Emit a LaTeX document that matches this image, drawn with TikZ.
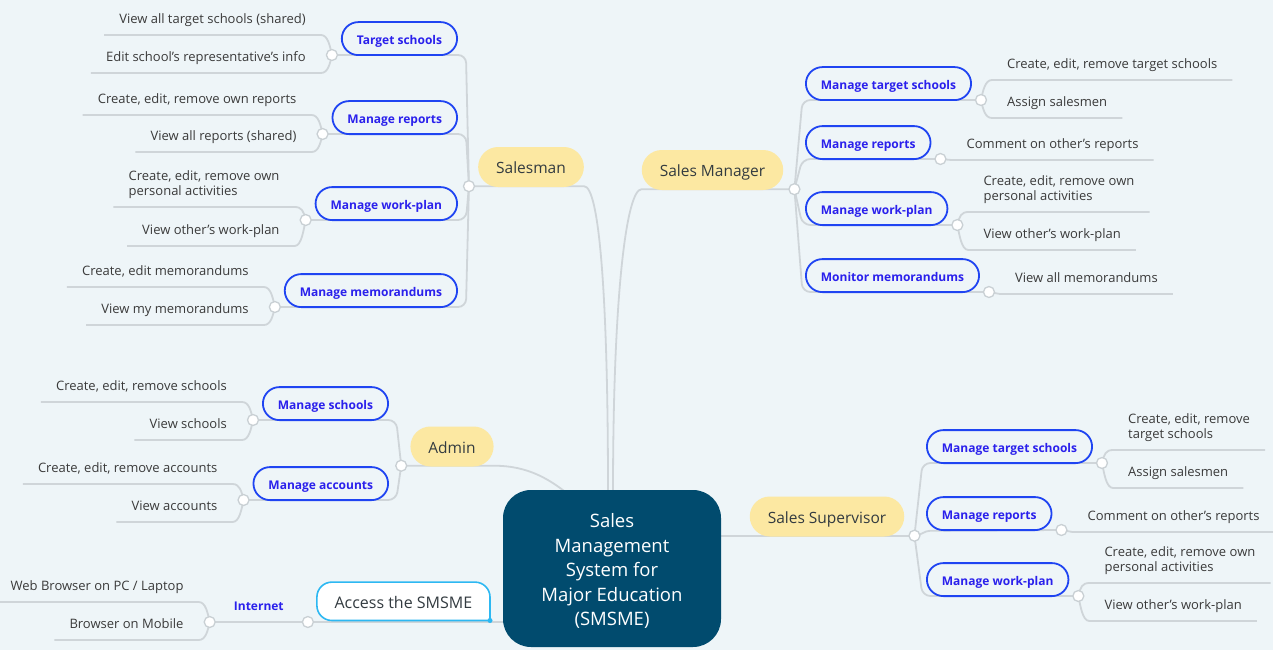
\documentclass[tikz,border=0pt]{standalone}
\usepackage{fontspec}
\setmainfont{Open Sans}
\usetikzlibrary{calc}
\pgfdeclarelayer{bg}
\pgfdeclarelayer{lines}
\pgfsetlayers{bg,lines,main}
\definecolor{bgc}{HTML}{EEF5F8}
\definecolor{linec}{HTML}{CFD5D9}
\definecolor{dotc}{HTML}{C9D0D4}
\definecolor{yel}{HTML}{FCE8A2}
\definecolor{blub}{HTML}{1F44F2}
\definecolor{blut}{HTML}{2A20EC}
\definecolor{leaft}{HTML}{3A3A3A}
\definecolor{darkt}{HTML}{333B40}
\definecolor{hubc}{HTML}{014B6E}
\definecolor{accc}{HTML}{2DB8F2}
\newcommand\leaffont{\fontsize{13}{15}\selectfont}
\newcommand\taskfont{\fontsize{12}{14}\selectfont\bfseries}
\newcommand\rolefont{\fontsize{15.5}{18}\selectfont}
\newcommand\accfont{\fontsize{16}{19}\selectfont}
\newcommand\hubfont{\fontsize{18.5}{24.5}\selectfont}
\newcommand\leafl[3]{\draw[conn] (#1.center) .. controls +(-2,{#3*9}) and +(7,0) .. (#2.south east) -- (#2.south west);}
\newcommand\leafr[3]{\draw[conn] (#1.center) .. controls +(2,{#3*9}) and +(-7,0) .. (#2.south west) -- (#2.south east);}
\newcommand\brline[3]{\draw[conn, rounded corners=8pt] (#1.center) -- ($(#1.center |- #2.center)+(#3,0)$) -- (#2.center);}
\newcommand\twoline[2]{\begin{tabular}[b]{@{}l@{}}#1\\#2\end{tabular}}
\begin{document}
\begin{tikzpicture}[x=1pt,y=-1pt,
 conn/.style={draw=linec, line width=1.8pt},
 dot/.style={circle, draw=dotc, fill=white, line width=1.3pt, minimum size=11pt, inner sep=0pt},
 role/.style={fill=yel, rounded corners=20pt, minimum height=40pt, inner xsep=18pt, inner ysep=0pt, font=\rolefont, text=darkt, text height=14pt, text depth=0.5pt},
 task/.style={draw=blub, fill=bgc, line width=1.8pt, rounded corners=16.5pt, minimum height=33pt, inner xsep=15pt, inner ysep=0pt, font=\taskfont, text=blut, text height=11.5pt, text depth=0.5pt},
 leafL/.style={anchor=south east, font=\leaffont, text=leaft, inner xsep=15pt, inner ysep=0pt, text height=9.5pt, text depth=11.5pt},
 leafR/.style={leafL, anchor=south west},
 hub/.style={fill=hubc, rounded corners=28pt, minimum width=218pt, minimum height=157pt, text=white, font=\hubfont, align=center, inner sep=0pt},
 accs/.style={minimum height=38pt, inner xsep=17.5pt, inner ysep=0pt, font=\accfont, text=darkt, text height=14pt, text depth=0.5pt},
 inet/.style={font=\taskfont, text=blut, inner xsep=12pt, inner ysep=0pt, text height=9pt, text depth=11.5pt},
]
\useasboundingbox (0,0) rectangle (1273,650);
\begin{pgfonlayer}{bg}
\fill[bgc] (0,0) rectangle (1273,650);
\end{pgfonlayer}

% hub and roles
\node[hub] (ctr) at (612,568.5) {\rule{0pt}{19.5pt}Sales\\Management\\System for\\Major Education\\(SMSME)};
\node[role] (sman) at (531,167) {Salesman};
\node[role] (smgr) at (712.5,170) {Sales Manager};
\node[role] (admin) at (452,446.5) {Admin};
\node[role] (ssup) at (827,516.5) {Sales Supervisor};
\node[dot] (d-sman) at ($(sman.south west)+(-9,-1)$) {};
\node[dot] (d-smgr) at ($(smgr.south east)+(11,-1)$) {};
\node[dot] (d-admin) at ($(admin.south west)+(-9,-1)$) {};
\node[dot] (d-ssup) at ($(ssup.south east)+(10,-1)$) {};

% Salesman tasks
\node[task, anchor=south east] (t1) at (458,56) {Target schools};
\node[task, anchor=south east] (t2) at (458,135) {Manage reports};
\node[task, anchor=south east] (t3) at (458,221) {Manage work-plan};
\node[task, anchor=south east] (t4) at (458,308) {Manage memorandums};
\node[dot] (d-t1) at ($(t1.south west)+(-9,-1)$) {};
\node[dot] (d-t2) at ($(t2.south west)+(-9,-1)$) {};
\node[dot] (d-t3) at ($(t3.south west)+(-9,-1)$) {};
\node[dot] (d-t4) at ($(t4.south west)+(-9,-1)$) {};
\node[leafL] (l1a) at ($(d-t1)+(-11,-20)$) {View all target schools (shared)};
\node[leafL] (l1b) at ($(d-t1)+(-11,18)$) {Edit school's representative's info};
\node[leafL] (l2a) at ($(d-t2)+(-11,-19)$) {Create, edit, remove own reports};
\node[leafL] (l2b) at ($(d-t2)+(-11,18)$) {View all reports (shared)};
\node[leafL] (l3a) at ($(d-t3)+(-11,-13)$) {\twoline{Create, edit, remove own}{personal activities}};
\node[leafL] (l3b) at ($(d-t3)+(-11,26)$) {View other's work-plan};
\node[leafL] (l4a) at ($(d-t4)+(-11,-20)$) {Create, edit memorandums};
\node[leafL] (l4b) at ($(d-t4)+(-11,18)$) {View my memorandums};

% Sales Manager tasks
\node[task, anchor=south west] (m1) at (805,101) {Manage target schools};
\node[task, anchor=south west] (m2) at (805,160) {Manage reports};
\node[task, anchor=south west] (m3) at (805,226) {Manage work-plan};
\node[task, anchor=south west] (m4) at (805,293) {Monitor memorandums};
\node[dot] (d-m1) at ($(m1.south east)+(9,-1)$) {};
\node[dot] (d-m2) at ($(m2.south east)+(9,-1)$) {};
\node[dot] (d-m3) at ($(m3.south east)+(9,-1)$) {};
\node[dot] (d-m4) at ($(m4.south east)+(9,-1)$) {};
\node[leafR] (m1a) at ($(d-m1)+(11,-20)$) {Create, edit, remove target schools};
\node[leafR] (m1b) at ($(d-m1)+(11,18)$) {Assign salesmen};
\node[leafR] (m2a) at ($(d-m2)+(11,1)$) {Comment on other's reports};
\node[leafR] (m3a) at ($(d-m3)+(11,-13)$) {\twoline{Create, edit, remove own}{personal activities}};
\node[leafR] (m3b) at ($(d-m3)+(11,25)$) {View other's work-plan};
\node[leafR] (m4a) at ($(d-m4)+(11,2)$) {View all memorandums};

% Sales Supervisor tasks
\node[task, anchor=south west] (s1) at (926,464) {Manage target schools};
\node[task, anchor=south west] (s2) at (926,531) {Manage reports};
\node[task, anchor=south west] (s3) at (926,597) {Manage work-plan};
\node[dot] (d-s1) at ($(s1.south east)+(9,-1)$) {};
\node[dot] (d-s2) at ($(s2.south east)+(9,-1)$) {};
\node[dot] (d-s3) at ($(s3.south east)+(9,-1)$) {};
\node[leafR] (s1a) at ($(d-s1)+(11,-13)$) {\twoline{Create, edit, remove}{target schools}};
\node[leafR] (s1b) at ($(d-s1)+(11,25)$) {Assign salesmen};
\node[leafR] (s2a) at ($(d-s2)+(11,2)$) {Comment on other's reports};
\node[leafR] (s3a) at ($(d-s3)+(11,-13)$) {\twoline{Create, edit, remove own}{personal activities}};
\node[leafR] (s3b) at ($(d-s3)+(11,25)$) {View other's work-plan};

% Admin tasks
\node[task, anchor=south east] (a1) at (389,421) {Manage schools};
\node[task, anchor=south east] (a2) at (389,501) {Manage accounts};
\node[dot] (d-a1) at ($(a1.south west)+(-9,-1)$) {};
\node[dot] (d-a2) at ($(a2.south west)+(-9,-1)$) {};
\node[leafL] (a1a) at ($(d-a1)+(-11,-18)$) {Create, edit, remove schools};
\node[leafL] (a1b) at ($(d-a1)+(-11,20)$) {View schools};
\node[leafL] (a2a) at ($(d-a2)+(-11,-16)$) {Create, edit, remove accounts};
\node[leafL] (a2b) at ($(d-a2)+(-11,22)$) {View accounts};

% Access
\node[accs, anchor=south east] (acc) at (490,620.5) {Access the SMSME};
\node[dot] (d-acc) at ($(acc.south west)+(-9,1.5)$) {};
\node[inet, anchor=south east] (inet) at ($(d-acc)+(-12,0)$) {Internet};
\node[dot] (d-inet) at ($(inet.south west)+(-12,0)$) {};
\node[leafL] (i1) at ($(d-inet)+(-11,-20)$) {Web Browser on PC / Laptop};
\node[leafL] (i2) at ($(d-inet)+(-11,18)$) {Browser on Mobile};

\begin{pgfonlayer}{lines}
% hub to roles
\draw[conn] (d-sman.center) -- (d-sman.center -| sman.east) .. controls +(15,0) and +(0,-200) .. ($(ctr.north)+(-4,3)$);
\draw[conn] ($(ctr.north)+(1,3)$) .. controls +(0,-200) and +(-15,0) .. (d-smgr.center -| smgr.west) -- (d-smgr.center);
\draw[conn] (d-admin.center) -- (d-admin.center -| admin.east) .. controls +(35,0) and +(-18,-14) .. ($(ctr.north west)+(65,4)$);
\draw[conn] ($(ctr.east |- d-ssup.center)+(-5,0)$) -- (d-ssup.center);
\draw[conn] (d-inet.center) -- (d-acc.center) -- ($(ctr.west |- d-acc.center)+(5,0)$);
% roles to tasks
\brline{d-sman}{d-t1}{-3}
\brline{d-sman}{d-t2}{-3}
\brline{d-sman}{d-t3}{-3}
\brline{d-sman}{d-t4}{-3}
\brline{d-smgr}{d-m1}{8}
\brline{d-smgr}{d-m2}{8}
\brline{d-smgr}{d-m3}{8}
\brline{d-smgr}{d-m4}{8}
\brline{d-ssup}{d-s1}{8}
\draw[conn] (d-ssup.center) .. controls +(6,0) and +(-6,0) .. ($(d-ssup.center)+(16,-5)$) -- (d-s2.center);
\brline{d-ssup}{d-s3}{8}
\brline{d-admin}{d-a1}{-5}
\brline{d-admin}{d-a2}{-5}
% tasks to leaves
\leafl{d-t1}{l1a}{-1}
\leafl{d-t1}{l1b}{1}
\leafl{d-t2}{l2a}{-1}
\leafl{d-t2}{l2b}{1}
\leafl{d-t3}{l3a}{-1}
\leafl{d-t3}{l3b}{1}
\leafl{d-t4}{l4a}{-1}
\leafl{d-t4}{l4b}{1}
\leafl{d-a1}{a1a}{-1}
\leafl{d-a1}{a1b}{1}
\leafl{d-a2}{a2a}{-1}
\leafl{d-a2}{a2b}{1}
\leafl{d-inet}{i1}{-1}
\leafl{d-inet}{i2}{1}
\leafr{d-m1}{m1a}{-1}
\leafr{d-m1}{m1b}{1}
\draw[conn] (d-m2.center) -- (m2a.south west) -- (m2a.south east);
\leafr{d-m3}{m3a}{-1}
\leafr{d-m3}{m3b}{1}
\draw[conn] (d-m4.center) -- (m4a.south west) -- (m4a.south east);
\leafr{d-s1}{s1a}{-1}
\leafr{d-s1}{s1b}{1}
\draw[conn] (d-s2.center) -- (s2a.south west) -- (s2a.south east);
\leafr{d-s3}{s3a}{-1}
\leafr{d-s3}{s3b}{1}
% access box shape
\draw[draw=accc, fill=white, line width=1.6pt, rounded corners=15pt, line cap=rect] (acc.south east) -- (acc.north east) -- (acc.north west) -- (acc.south west) -- (acc.south east);
\fill[accc] (acc.south east) circle[radius=2.5pt];
\end{pgfonlayer}
\end{tikzpicture}
\end{document}
